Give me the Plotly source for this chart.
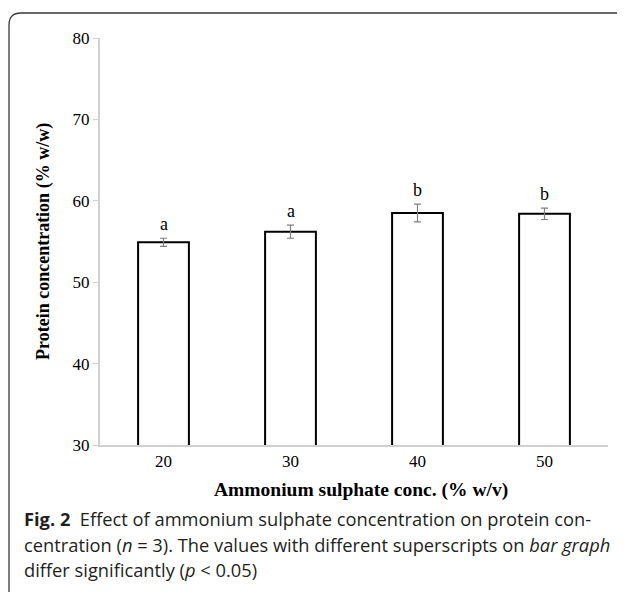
import plotly.graph_objects as go

categories = ["20", "30", "40", "50"]
protein = [54.9, 56.2, 58.5, 58.4]
errors = [0.5, 0.8, 1.1, 0.7]
letters = ["a", "a", "b", "b"]
y_ticks = [30, 40, 50, 60, 70, 80]
x_title = "Ammonium sulphate conc. (% w/v)"
y_title = "Protein concentration (% w/w)"

# page body has an 8px offset; work in figure coordinates
OFF = 8
W, H = 625, 592
L, R, T, B = 100 - OFF, W - (608 - OFF), 38 - OFF, H - (445 - OFF)
pw, ph = W - L - R, H - T - B

def px(x):
    return (x - OFF - L) / pw

def py(y):
    return (H - B - (y - OFF)) / ph

serif = "Liberation Serif"
sans = "Open Sans"

xpos = list(range(len(categories)))

fig = go.Figure()
fig.add_trace(go.Bar(
    x=xpos, y=protein, width=0.4,
    marker=dict(color="white", line=dict(color="black", width=2)),
    error_y=dict(type="data", array=errors, color="#808080", thickness=1.2, width=3.5),
    showlegend=False,
))

for xi, v, e, t in zip(xpos, protein, errors, letters):
    fig.add_annotation(x=xi, y=v + e + 0.25, text=t, showarrow=False, yanchor="bottom",
                       font=dict(family=serif, size=18, color="black"))

# axis titles
fig.add_annotation(xref="paper", yref="paper", x=px(361), y=py(490), text=f"<b>{x_title}</b>",
                   showarrow=False, xanchor="center", yanchor="middle",
                   font=dict(family=serif, size=19.5, color="black"))
fig.add_annotation(xref="paper", yref="paper", x=px(44), y=py(242), text=f"<b>{y_title}</b>",
                   showarrow=False, xanchor="center", yanchor="middle", textangle=-90,
                   font=dict(family=serif, size=18, color="black"))

# caption
cap = [
    "<b>Fig. 2</b>  Effect of ammonium sulphate concentration on protein con-",
    "centration (<i>n</i> = 3). The values with different superscripts on <i>bar graph</i>",
    "differ significantly (<i>p</i> &lt; 0.05)",
]
for line, yy in zip(cap, [518, 544, 569]):
    fig.add_annotation(xref="paper", yref="paper", x=px(22), y=py(yy), text=line,
                       showarrow=False, xanchor="left", yanchor="middle", align="left",
                       font=dict(family=sans, size=18.3, color="#231f20"))

# rounded frame (top-left corner)
x0, y0, r = px(9), py(13), 12
path = (f"M {x0},{py(620)} L {x0},{py(13 + r)} Q {x0},{y0} {px(9 + r)},{y0} L {px(660)},{y0}")
fig.add_shape(type="path", xref="paper", yref="paper", path=path,
              line=dict(color="#3a3a3a", width=1.3))

fig.update_layout(
    width=W, height=H, margin=dict(l=L, r=R, t=T, b=B),
    plot_bgcolor="white", paper_bgcolor="white",
    font=dict(family=serif, color="black"),
)
fig.update_xaxes(
    range=[-0.5, len(categories) - 0.5], tickvals=xpos, ticktext=categories,
    showline=True, linecolor="#d0d0d0", linewidth=2, ticks="", showgrid=False, zeroline=False,
    tickfont=dict(family=serif, size=17, color="black"),
)
fig.update_yaxes(
    range=[30, 80], tickvals=y_ticks, showline=True, linecolor="#d0d0d0", linewidth=2,
    ticks="outside", ticklen=5, tickcolor="#d0d0d0", showgrid=False, zeroline=False,
    tickfont=dict(family=serif, size=17, color="black"),
)

fig.write_html("out.html")
